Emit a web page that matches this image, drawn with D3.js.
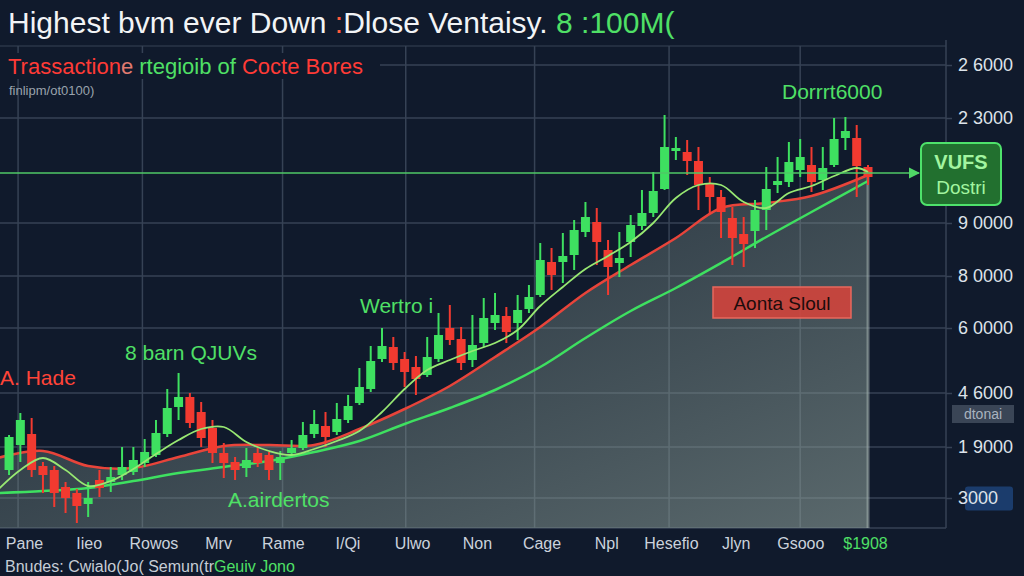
<!DOCTYPE html>
<html>
<head>
<meta charset="utf-8">
<script src="https://cdn.jsdelivr.net/npm/d3@7"></script>
<style>
  body { margin: 0; background: #101a2c; }
  svg { display: block; }
  text { font-family: "Liberation Sans", Arial, sans-serif; }
</style>
</head>
<body>
<div id="chart"></div>
<script>

// candle values, one entry per session
var opens  = [2900,4150,4700,3100,2900,2050,1750,1200,2400,2300,2650,2800,3250,3650,4700,6050,6550,5800,5000,3750,
              3300,3000,3750,3650,3250,3750,4000,4700,5100,4800,5400,6250,6950,8450,9050,8450,8050,7650,8450,10000,
              9450,8400,9250,10250,10600,10250,10950,11650,13300,13300,13650,14800,15300,13900,13250,14300,15100,15750,16950,18850,
              18800,18350,17200,16550,15500,14700,14850,15900,17150,17300,17900,18150,17400,18150,19500,19500,18050];
var closes = [4550,5400,2900,2650,1750,1500,1100,1500,2000,2550,3050,3400,3800,4750,6000,6550,5250,4500,3750,3250,
              2900,3400,3250,2900,3550,4000,4650,5200,4550,5450,6100,7050,8350,9100,8250,7800,7450,8550,9650,9400,
              8250,9150,10500,10650,9800,10900,11550,13400,12650,13600,14900,15550,14300,13050,13500,15150,15750,16850,19050,19000,
              18350,17150,16550,15800,14500,14200,15900,16950,17350,18300,18550,17300,18000,19450,19850,18100,17550];
var highs  = [4650,5750,5500,3300,3100,2300,1950,2300,2900,3050,4050,4050,4450,5400,6950,7750,6750,6300,5400,4250,
              3550,4000,4000,3800,3850,4400,5300,5900,5800,6250,6650,8000,9100,10000,9550,8800,8600,9550,10750,11150,
              10050,10650,11500,11750,11050,11650,12150,14250,14000,14750,15400,16300,16000,14400,14800,15650,16900,17800,20650,19550,
              19400,19050,17550,16900,16050,15550,16400,18050,18550,19300,19450,19050,19050,20500,20550,20150,18150];
var lows   = [2650,3300,2550,1750,1050,750,250,550,1550,1800,2400,2650,3050,3550,4550,5400,5000,4050,3250,2500,
              2400,2550,3050,2400,2400,3550,3900,4500,4050,4650,5250,6150,6800,8300,7900,7050,6650,7550,8300,9150,
              7900,8050,9050,9900,9250,9400,10750,11550,11900,12250,12900,14550,13150,11650,12550,13550,14900,15550,16900,18400,
              17650,15900,15750,14500,13150,13050,14000,14900,16750,17050,17550,16800,16900,18050,18900,16550,17150];

// moving averages, read at session positions
var slowIdx   = [-1,3,7,11,15,19,23,27,31,35,39,43,47,51,55,59,63,67,71,76];
var slowGreen = [1750,1850,2000,2350,2750,3050,3350,3800,4350,5200,6000,6900,8050,9500,10850,12000,13250,14550,15800,17350];
var slowRed   = [3500,3850,3100,3000,3550,4100,4150,4150,4950,5950,7100,8550,10050,11750,13150,14500,16000,16250,16600,17650];
var fastIdx   = [-1,1,3,5,7,9,11,13,15,17,19,21,23,25,27,29,31,33,35,37,39,41,43,45,47,49,51,53,55,57,59,61,63,65,67,69,71,73,75,76];
var fastLine  = [1900,2900,3500,2900,2100,2350,2950,3700,4400,4950,5050,4300,3850,3650,3950,4350,4850,5800,6950,7900,
                 8400,8850,9250,9900,11100,12050,12950,13600,14300,15250,16500,17150,17150,16300,16000,16750,17100,17600,18000,17800];

var resistance = 17750;

// axes
var yTickVals   = [23150, 20500, 15250, 12600, 10000, 6750, 4050, 1500];
var yTickLabels = ["2 6000", "2 3000", "9 0000", "8 0000", "6 0000", "4 6000", "1 9000", "3000"];
var xLabels = ["Pane", "Iieo", "Rowos", "Mrv", "Rame", "I/Qi", "Ulwo", "Non", "Cage", "Npl", "Hesefio", "Jlyn", "Gsooo", "$1908"];
var gridIdx = [0.8, 11.8, 24.2, 35.1, 46.5, 58.4, 70];

var width = 1024,
    height = 576,
    plotLeft = 0, plotRight = 946, plotTop = 46, plotBottom = 528;

var green = "#3ee060", red = "#f23a30", gridColor = "#364255";

var svg = d3.select("#chart").append("svg")
    .attr("width", width)
    .attr("height", height);

svg.append("rect").attr("width", width).attr("height", height).attr("fill", "#101a2c");

var x = d3.scaleLinear().domain([-0.8, 76]).range([0, 868]);
var y = d3.scaleLinear().domain([0, 23150]).range([plotBottom, 65]);
var xl = d3.scalePoint().domain(xLabels).range([24, 865]);

var defs = svg.append("defs");
defs.append("clipPath").attr("id", "plot")
  .append("rect").attr("x", plotLeft).attr("y", plotTop)
  .attr("width", plotRight - plotLeft).attr("height", plotBottom - plotTop);

var grad = defs.append("linearGradient").attr("id", "areaFill")
    .attr("x1", 0).attr("y1", 0).attr("x2", 1).attr("y2", 1);
grad.append("stop").attr("offset", "0%").attr("stop-color", "#71857e").attr("stop-opacity", 0.16);
grad.append("stop").attr("offset", "100%").attr("stop-color", "#90a29b").attr("stop-opacity", 0.58);

defs.append("marker").attr("id", "arrow")
    .attr("viewBox", "0 0 10 10").attr("refX", 9).attr("refY", 5)
    .attr("markerWidth", 7).attr("markerHeight", 7).attr("orient", "auto")
  .append("path").attr("d", "M0,0 L10,5 L0,10 z").attr("fill", "#4fd866");

/* grid */
var grid = svg.append("g");
grid.selectAll(".hgrid")
  .data(yTickVals)
  .enter().append("line")
    .attr("x1", plotLeft).attr("x2", plotRight)
    .attr("y1", function(d) { return y(d); })
    .attr("y2", function(d) { return y(d); })
    .attr("stroke", gridColor).attr("stroke-width", 1.5);

grid.selectAll(".vgrid")
  .data(gridIdx)
  .enter().append("line")
    .attr("x1", function(d) { return x(d); })
    .attr("x2", function(d) { return x(d); })
    .attr("y1", plotTop).attr("y2", plotBottom)
    .attr("stroke", gridColor).attr("stroke-width", 1.5);

grid.append("line").attr("x1", 0).attr("x2", plotRight).attr("y1", plotTop).attr("y2", plotTop)
    .attr("stroke", gridColor).attr("stroke-width", 1.2);
grid.append("line").attr("x1", 0).attr("x2", plotRight).attr("y1", plotBottom).attr("y2", plotBottom)
    .attr("stroke", gridColor).attr("stroke-width", 1.5);
grid.append("line").attr("x1", plotRight).attr("x2", plotRight).attr("y1", plotTop - 6).attr("y2", plotBottom)
    .attr("stroke", gridColor).attr("stroke-width", 1.5);

var plot = svg.append("g").attr("clip-path", "url(#plot)");

/* shaded area under the slow red average */
var redPts = slowIdx.map(function(d, i) { return [d, slowRed[i]]; });
plot.append("path")
    .datum(redPts)
    .attr("fill", "url(#areaFill)")
    .attr("d", d3.area()
      .x(function(d) { return x(d[0]); })
      .y0(plotBottom)
      .y1(function(d) { return y(d[1]); })
      .curve(d3.curveCatmullRom));

plot.append("line")
    .attr("x1", x(76)).attr("x2", x(76))
    .attr("y1", y(slowRed[slowRed.length - 1])).attr("y2", plotBottom)
    .attr("stroke", "#a4b2ae").attr("stroke-opacity", 0.55).attr("stroke-width", 3);

/* resistance line with arrow */
svg.append("line")
    .attr("x1", 0).attr("x2", 919)
    .attr("y1", y(resistance)).attr("y2", y(resistance))
    .attr("stroke", "#4fc866").attr("stroke-width", 1.6)
    .attr("marker-end", "url(#arrow)");

/* averages */
var line = d3.line()
    .x(function(d) { return x(d[0]); })
    .y(function(d) { return y(d[1]); })
    .curve(d3.curveCatmullRom);

plot.append("path")
    .datum(slowIdx.map(function(d, i) { return [d, slowGreen[i]]; }))
    .attr("fill", "none").attr("stroke", green).attr("stroke-width", 2.5)
    .attr("d", line);

plot.append("path")
    .datum(redPts)
    .attr("fill", "none").attr("stroke", "#e8443a").attr("stroke-width", 2.5)
    .attr("d", line);

/* candles */
var candles = opens.map(function(o, i) {
  return { i: i, o: o, c: closes[i], h: highs[i], l: lows[i] };
});

var cg = plot.selectAll(".candle")
  .data(candles)
  .enter().append("g")
    .attr("class", "candle");

cg.append("line")
    .attr("x1", function(d) { return x(d.i); })
    .attr("x2", function(d) { return x(d.i); })
    .attr("y1", function(d) { return y(d.h); })
    .attr("y2", function(d) { return y(d.l); })
    .attr("stroke", function(d) { return d.c >= d.o ? green : red; })
    .attr("stroke-width", 2);

cg.append("rect")
    .attr("x", function(d) { return x(d.i) - 4.5; })
    .attr("y", function(d) { return y(Math.max(d.o, d.c)); })
    .attr("width", 9)
    .attr("height", function(d) { return Math.max(2, Math.abs(y(d.o) - y(d.c))); })
    .attr("fill", function(d) { return d.c >= d.o ? green : red; });

plot.append("path")
    .datum(fastIdx.map(function(d, i) { return [d, fastLine[i]]; }))
    .attr("fill", "none").attr("stroke", "#98e872").attr("stroke-width", 1.8)
    .attr("d", line);

/* right axis */
var yAxis = svg.append("g")
    .attr("transform", "translate(" + plotRight + ",0)")
    .call(d3.axisRight(y)
      .tickValues(yTickVals)
      .tickFormat(function(d, i) { return yTickLabels[i]; })
      .tickSize(6)
      .tickPadding(6));
yAxis.select(".domain").remove();
yAxis.selectAll(".tick line").attr("stroke", gridColor).attr("stroke-width", 1.5);
yAxis.selectAll(".tick text")
    .attr("fill", "#dde3ea")
    .style("font-size", "18px");

// badges on the axis
svg.append("rect").attr("x", 952).attr("y", y(5700) - 9).attr("width", 62).attr("height", 18)
    .attr("fill", "#3a4556");
svg.append("text").attr("x", 983).attr("y", y(5700)).attr("dy", "0.35em")
    .attr("text-anchor", "middle").attr("fill", "#a9b3bf").style("font-size", "14px")
    .text("dtonai");
yAxis.selectAll(".tick").filter(function(d, i) { return i === yTickVals.length - 1; })
    .insert("rect", "text")
    .attr("x", 19).attr("y", -12).attr("width", 48).attr("height", 24).attr("rx", 3)
    .attr("fill", "#1b3c6c");

/* bottom axis */
var xAxis = svg.append("g")
    .attr("transform", "translate(0," + plotBottom + ")")
    .call(d3.axisBottom(xl).tickSize(0).tickPadding(10));
xAxis.select(".domain").remove();
xAxis.selectAll(".tick text")
    .attr("fill", function(d, i) { return i === xLabels.length - 1 ? "#4fe066" : "#cbd2dc"; })
    .style("font-size", "16px");

/* value box at the resistance line */
svg.append("rect").attr("x", 921).attr("y", y(resistance) - 30).attr("width", 80).attr("height", 62)
    .attr("rx", 6).attr("fill", "#22702f").attr("stroke", "#4ee26b").attr("stroke-width", 2);
svg.append("text").attr("x", 961).attr("y", y(resistance) - 11).attr("dy", "0.35em")
    .attr("text-anchor", "middle").attr("fill", "#a2f5a0").style("font-size", "20px").style("font-weight", "bold")
    .text("VUFS");
svg.append("text").attr("x", 961).attr("y", y(resistance) + 14).attr("dy", "0.35em")
    .attr("text-anchor", "middle").attr("fill", "#a2f5a0").style("font-size", "19px")
    .text("Dostri");

/* red label box */
svg.append("rect").attr("x", 713).attr("y", 287).attr("width", 138).attr("height", 31)
    .attr("fill", "#d2443c").attr("fill-opacity", 0.9).attr("stroke", "#e8685e").attr("stroke-width", 1.5);
svg.append("text").attr("x", 782).attr("y", 303).attr("dy", "0.35em")
    .attr("text-anchor", "middle").attr("fill", "#1c0c0c").style("font-size", "19px")
    .text("Aonta Sloul");

/* chart annotations */
var notes = [
  { t: "Dorrrt6000", x: 782, y: 92, c: "#4fe066" },
  { t: "Wertro i", x: 360, y: 306, c: "#4fe066" },
  { t: "8 barn QJUVs", x: 125, y: 353, c: "#4fe066" },
  { t: "A. Hade", x: 0, y: 378, c: "#ff4438" },
  { t: "A.airdertos", x: 228, y: 500, c: "#4fe066" }
];
svg.selectAll(".note")
  .data(notes)
  .enter().append("text")
    .attr("x", function(d) { return d.x; })
    .attr("y", function(d) { return d.y; })
    .attr("dy", "0.35em")
    .attr("fill", function(d) { return d.c; })
    .style("font-size", "21px")
    .text(function(d) { return d.t; });

/* titles */
svg.append("rect").attr("x", 0).attr("y", 53).attr("width", 380).attr("height", 26).attr("fill", "#101a2c");

var title = svg.append("text").attr("x", 8).attr("y", 33).attr("fill", "#f2f4f6").style("font-size", "30px");
title.append("tspan").text("Highest bvm ever Down ");
title.append("tspan").attr("fill", "#ff5a3c").text(":");
title.append("tspan").text("Dlose Ventaisy. ");
title.append("tspan").attr("fill", "#4fe066").text("8 :100M(");

var sub = svg.append("text").attr("x", 8).attr("y", 74).style("font-size", "22px");
sub.append("tspan").attr("fill", "#ff3b36").text("Trassaction");
sub.append("tspan").attr("fill", "#e07a70").text("e ");
sub.append("tspan").attr("fill", "#4fe066").text("rtegioib of ");
sub.append("tspan").attr("fill", "#ff3b36").text("Cocte Bores");

svg.append("text").attr("x", 9).attr("y", 95).attr("fill", "#9aa3ad").style("font-size", "13px")
    .text("finlipm/ot0100)");

var foot = svg.append("text").attr("x", 5).attr("y", 572).style("font-size", "16px");
foot.append("tspan").attr("fill", "#c6cdd6").text("Bnudes: Cwialo(Jo( Semun(tr");
foot.append("tspan").attr("fill", "#4fe066").text("Geuiv Jono");

</script>
</body>
</html>
